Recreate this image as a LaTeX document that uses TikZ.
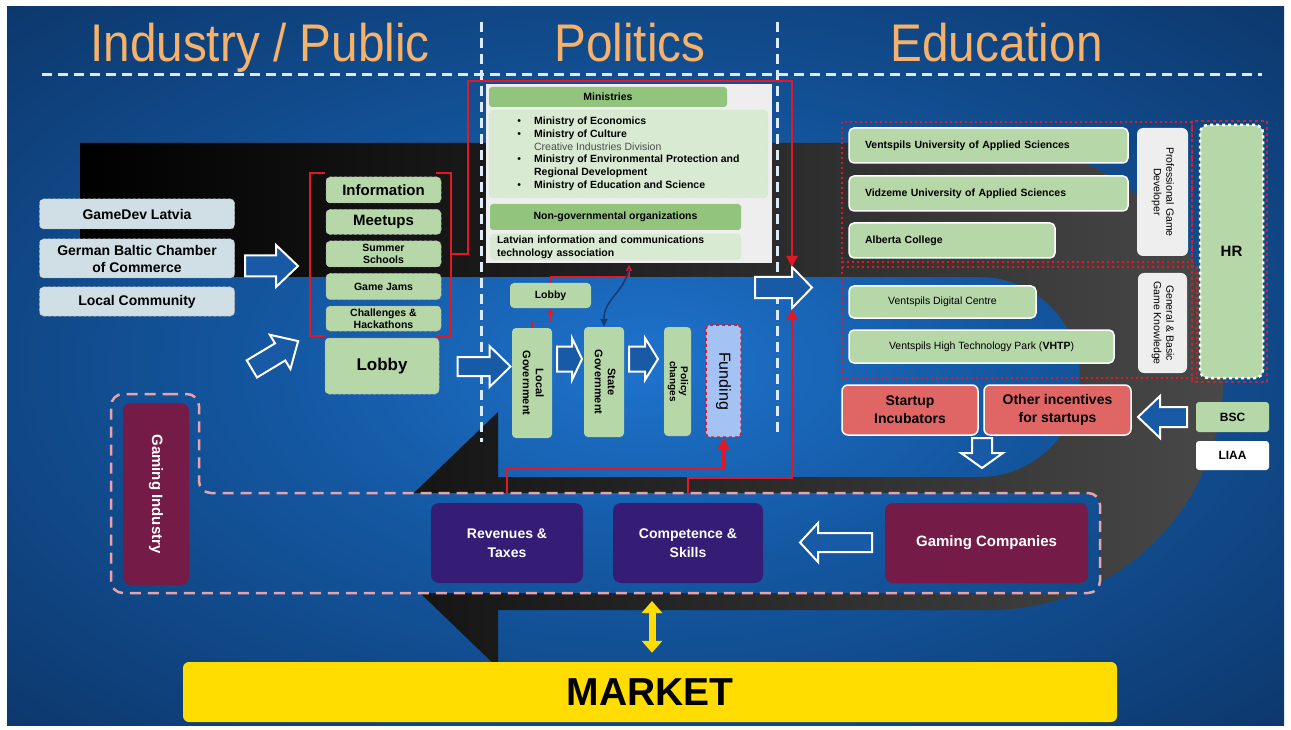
\documentclass[tikz,border=0pt]{standalone}
\usepackage{fontspec}
\setmainfont{Liberation Sans}
\newfontfamily\titlefont[FakeStretch=0.9]{Liberation Sans}
\usetikzlibrary{arrows.meta,positioning,calc}

\definecolor{bgedge}{RGB}{9,40,82}
\definecolor{bgmid}{RGB}{20,88,162}
\definecolor{bgglow}{RGB}{30,115,205}
\definecolor{ushapegrey}{RGB}{72,72,72}
\definecolor{boxgreen}{RGB}{182,215,168}
\definecolor{headgreen}{RGB}{147,196,125}
\definecolor{palegreen}{RGB}{217,234,211}
\definecolor{panelgrey}{RGB}{238,238,238}
\definecolor{orgblue}{RGB}{208,223,230}
\definecolor{flowred}{RGB}{226,24,36}
\definecolor{titleorange}{RGB}{246,178,107}
\definecolor{gamemaroon}{RGB}{116,27,71}
\definecolor{deeppurple}{RGB}{53,28,117}
\definecolor{startred}{RGB}{224,102,102}
\definecolor{fundblue}{RGB}{164,194,244}
\definecolor{marketyellow}{RGB}{255,221,0}
\definecolor{dashpink}{RGB}{232,162,172}
\definecolor{arrowblue}{RGB}{24,90,165}
\definecolor{lightline}{RGB}{222,234,246}
\definecolor{curveblue}{RGB}{18,58,115}

\pgfdeclareradialshading{bgglowshade}{\pgfpoint{0bp}{0bp}}{color(0bp)=(bgglow); color(14bp)=(bgmid); color(46bp)=(bgedge); color(100bp)=(bgedge)}

\newcommand{\setfs}[2]{\fontsize{#1pt}{#2pt}\selectfont}
\newcommand{\bigarrow}[7]{%
  \begin{scope}[shift={(#1,#2)}, rotate=#3]
    \draw[blockarrow] ({-#4/2},{-#6/2}) -- ({#4/2-#7},{-#6/2}) -- ({#4/2-#7},{-#5/2}) -- ({#4/2},0)
      -- ({#4/2-#7},{#5/2}) -- ({#4/2-#7},{#6/2}) -- ({-#4/2},{#6/2}) -- cycle;
  \end{scope}}

\tikzset{
  orgbox/.style={rectangle, rounded corners=4pt, fill=orgblue, draw=black!25, densely dashed, line width=0.5pt, minimum width=195pt, inner sep=0pt, align=center, font=\setfs{14}{17}\bfseries},
  actbox/.style={rectangle, rounded corners=4pt, fill=boxgreen, draw=black!30, densely dashed, line width=0.5pt, minimum width=115pt, inner sep=0pt, align=center},
  minframe/.style={rectangle, fill=panelgrey, minimum width=286pt, minimum height=179pt, inner sep=0pt},
  headbox/.style={rectangle, rounded corners=3pt, fill=headgreen, inner sep=0pt, font=\setfs{10.5}{12.7}\bfseries},
  listbox/.style={rectangle, rounded corners=5pt, fill=palegreen, draw=black!20, densely dotted, inner sep=0pt, font=\setfs{10.5}{12.7}},
  govbox/.style={rectangle, rounded corners=4pt, fill=boxgreen, inner sep=0pt, minimum width=40pt, minimum height=110pt, font=\setfs{11}{13}\bfseries},
  edubox/.style={rectangle, rounded corners=5pt, fill=boxgreen, draw=white, line width=1.5pt, inner sep=0pt, minimum height=35pt, font=\setfs{10.5}{12.7}\bfseries},
  sidebox/.style={rectangle, rounded corners=6pt, fill=panelgrey, inner sep=0pt, font=\setfs{10.5}{12.5}},
  startbox/.style={rectangle, rounded corners=6pt, fill=startred, draw=white, line width=1.5pt, inner sep=0pt, minimum height=50pt, align=center, font=\setfs{14}{18}\bfseries},
  tagbox/.style={rectangle, rounded corners=3pt, inner sep=0pt, minimum width=73pt, font=\setfs{12}{14}\bfseries},
  gamebox/.style={rectangle, rounded corners=8pt, fill=gamemaroon, text=white, inner sep=0pt, align=center, font=\setfs{15}{19}\bfseries},
  valuebox/.style={rectangle, rounded corners=8pt, fill=deeppurple, text=white, inner sep=0pt, minimum width=150pt, minimum height=80pt, align=center, font=\setfs{14}{19}\bfseries},
  headline/.style={text=titleorange, anchor=base, inner sep=0pt, font=\titlefont\setfs{53}{60}},
  sepline/.style={draw=lightline, line width=3pt, dash pattern=on 10pt off 6pt},
  blockarrow/.style={fill=arrowblue, draw=white, line width=2pt},
  flowline/.style={draw=flowred, line width=2.5pt, -{Triangle[width=11pt,length=11pt]}},
  thinflow/.style={draw=flowred, line width=1.2pt, -{Triangle[width=6pt,length=6pt]}},
  redbracket/.style={draw=flowred, line width=2.5pt},
  reddots/.style={draw=flowred, line width=2pt, dash pattern=on 2pt off 3pt},
  banddash/.style={draw=dashpink, line width=2.5pt, dash pattern=on 11pt off 7pt}
}

\begin{document}
\begin{tikzpicture}[x=1pt, y=-1pt, node distance=6pt]
\useasboundingbox (0,0) rectangle (1291,730);
\fill[white] (0,0) rectangle (1291,730);
\shade[shading=bgglowshade] (7,7) rectangle (1284,725);

% the big turning arrow behind everything
\shade[left color=black, right color=ushapegrey] (80,143) -- (990,143)
  .. controls (1119,143) and (1223.5,247.5) .. (1223.5,376.5)
  .. controls (1223.5,505.5) and (1119,610) .. (990,610)
  -- (498,610) -- (498,668) -- (365,540) -- (498,412) -- (498,477) -- (980,477)
  .. controls (1035,477) and (1080,432) .. (1080,377)
  .. controls (1080,322) and (1035,277) .. (980,277) -- (80,277) -- cycle;

% column headers
\node[headline] (industry) at (260,62) {Industry / Public};
\node[headline] (politics) at (630,62) {Politics};
\node[headline] (education) at (996.5,62) {Education};
\draw[sepline] (42,75) -- (1262,75);
\draw[sepline] (481,22) -- (481,442);
\draw[sepline] (777,22) -- (777,437);

% gaming industry band
\begin{scope}
  \clip[rounded corners=12pt] (155,394) -- (199,394) -- (199,493) -- (1100,493) -- (1100,593) -- (111,593) -- (111,394) -- cycle;
  \shade[shading=bgglowshade] (7,7) rectangle (1284,725);
\end{scope}
\draw[banddash, rounded corners=12pt] (155,394) -- (199,394) -- (199,493) -- (1100,493) -- (1100,593) -- (111,593) -- (111,394) -- cycle;
\coordinate (bandtop) at (0,493);
\coordinate (bandfoot) at (652,601);

% industry / public
\node[orgbox, minimum height=30pt] (gamedev) at (137,214) {GameDev Latvia};
\node[orgbox, minimum height=39pt] (gbcc) at (137,258.5) {German Baltic Chamber\\of Commerce};
\node[orgbox, minimum height=29pt] (localcom) at (137,301.5) {Local Community};

\node[actbox, minimum height=26pt, font=\setfs{15}{17}\bfseries] (info) at (383.5,190) {Information};
\node[actbox, minimum height=25pt, font=\setfs{15}{17}\bfseries, below=of info] (meetups) {Meetups};
\node[actbox, minimum height=26pt, font=\setfs{10.5}{12}\bfseries, below=of meetups] (summer) {Summer\\Schools};
\node[actbox, minimum height=26pt, font=\setfs{10.5}{12}\bfseries, below=of summer] (jams) {Game Jams};
\node[actbox, minimum height=25pt, font=\setfs{10.5}{12}\bfseries, below=of jams] (challenges) {Challenges \&\\Hackathons};
\node[actbox, minimum width=114pt, minimum height=56pt, font=\setfs{17}{19}\bfseries] (lobbyA) at (382,366) {Lobby};

\draw[redbracket] (325,173) -- (310,173) -- (310,336) -- (325,336);
\draw[redbracket] (436,173) -- (451,173) -- (451,336) -- (436,336);
\coordinate (brk) at (451,254);

\bigarrow{271.5}{266}{0}{53}{42}{21}{22}
\bigarrow{275}{355}{31}{54}{40}{20}{21}

% politics
\node[minframe] (minbox) at (629,173.5) {};
\node[headbox, minimum width=238pt, minimum height=20pt] (minhead) at (608,97) {Ministries};
\node[listbox, minimum width=279pt, minimum height=88pt] (minlist) at (628.5,154) {%
  \begin{tabular}{@{}l@{\hspace{13pt}}l@{}}
  \textbullet & \textbf{Ministry of Economics}\\
  \textbullet & \textbf{Ministry of Culture}\\
   & \textcolor{black!70}{Creative Industries Division}\\
  \textbullet & \textbf{Ministry of Environmental Protection and}\\
   & \textbf{Regional Development}\\
  \textbullet & \textbf{Ministry of Education and Science}
  \end{tabular}};
\node[headbox, minimum width=251pt, minimum height=26pt] (ngohead) at (615.5,217) {Non-governmental organizations};
\node[listbox, text width=237pt, inner xsep=7pt, minimum height=26pt, align=left, font=\setfs{10.5}{12.7}\bfseries] (lict) at (615.5,247) {Latvian information and communications\\technology association};
\coordinate (minfoot) at (629,265);

\node[actbox, minimum width=81pt, minimum height=25pt, draw=none, font=\setfs{10.5}{12}\bfseries] (lobbyB) at (550.5,295.5) {Lobby};
\node[govbox] (localgov) at (532,383) {\rotatebox{-90}{\begin{tabular}{@{}c@{}}Local\\Government\end{tabular}}};
\node[govbox] (stategov) at (604,382) {\rotatebox{-90}{\begin{tabular}{@{}c@{}}State\\Government\end{tabular}}};
\node[govbox, minimum width=27pt, minimum height=109pt, draw=black!40, densely dotted, font=\setfs{10}{11}\bfseries] (policy) at (677.5,381.5) {\rotatebox{-90}{\begin{tabular}{@{}c@{}}Policy\\changes\end{tabular}}};
\node[govbox, minimum width=35pt, minimum height=112pt, fill=fundblue, draw=flowred, dashed, line width=1.5pt, font=\setfs{16}{18}] (funding) at (723.5,381) {\rotatebox{-90}{Funding}};

\bigarrow{484}{366.5}{0}{53}{41}{19}{21}
\bigarrow{569.5}{359}{0}{25}{42}{25}{10}
\bigarrow{643.5}{359}{0}{29}{42}{25}{13}
\bigarrow{783.5}{287.5}{0}{57}{41}{21}{20}
\coordinate (toedu) at (792,267);
\coordinate (fromedu) at (792,309);

% education
\draw[reddots] (842,122) rectangle (1192,262);
\draw[reddots] (842,267) rectangle (1197,378);
\draw[flowred, line width=2pt, dashed] (1192,121) rectangle (1267,382);
\node[edubox, text width=247pt, inner xsep=16pt, align=left] (vua) at (988.5,145.5) {Ventspils University of Applied Sciences};
\node[edubox, text width=247pt, inner xsep=16pt, align=left] (vid) at (988.5,193.5) {Vidzeme University of Applied Sciences};
\node[edubox, text width=174pt, inner xsep=16pt, align=left] (alberta) at (952,240.5) {Alberta College};
\node[edubox, minimum width=187pt, minimum height=32pt, font=\setfs{10.5}{12.7}] (vdc) at (942.5,302) {Ventspils Digital Centre};
\node[edubox, minimum width=265pt, minimum height=33pt, font=\setfs{10.5}{12.7}] (vhtp) at (981.5,346.5) {Ventspils High Technology Park (\textbf{VHTP})};
\node[sidebox, minimum width=51pt, minimum height=128pt] (progame) at (1162.5,192) {\rotatebox{-90}{\begin{tabular}{@{}c@{}}Professional Game\\Developer\end{tabular}}};
\node[sidebox, minimum width=49pt, minimum height=100pt] (genknow) at (1162.5,323) {\rotatebox{-90}{\begin{tabular}{@{}c@{}}General \& Basic\\Game Knowledge\end{tabular}}};
\node[rectangle, rounded corners=8pt, fill=boxgreen, draw=white, dashed, line width=2.5pt, minimum width=63pt, minimum height=253pt, font=\setfs{15}{17}\bfseries] (hr) at (1231.5,251.5) {HR};

\node[startbox, minimum width=136pt] (startup) at (910,410) {Startup\\Incubators};
\node[startbox, minimum width=147pt] (incent) at (1057.5,410) {Other incentives\\for startups};
\node[tagbox, fill=boxgreen, minimum height=30pt] (bsc) at (1232.5,417) {BSC};
\node[tagbox, fill=white, minimum height=29pt] (liaa) at (1232.5,455.5) {LIAA};
\bigarrow{1162.5}{417}{180}{49}{42}{20}{22}
\bigarrow{982}{453}{-90}{30}{42}{20}{15}

% gaming industry and market
\node[gamebox, minimum width=66pt, minimum height=182pt] (gamingind) at (156,494) {\rotatebox{-90}{Gaming Industry}};
\node[valuebox, minimum width=152pt] (revenues) at (507,543) {Revenues \&\\Taxes};
\node[valuebox] (competence) at (688,543) {Competence \&\\Skills};
\node[gamebox, minimum width=203pt, minimum height=80pt] (gamingco) at (986.5,543) {Gaming Companies};
\bigarrow{836}{542.5}{180}{72}{39}{19}{18}
\node[rectangle, rounded corners=6pt, fill=marketyellow, minimum width=934pt, minimum height=60pt, inner sep=0pt, font=\setfs{39}{42}\bfseries] (market) at (650,692) {MARKET};
\draw[marketyellow, line width=7pt, {Triangle[width=20pt,length=12pt]}-{Triangle[width=20pt,length=12pt]}, shorten >=9pt] (bandfoot) -- (bandfoot |- market.north);

% flows
\draw[flowline] (brk) -| (468,81) -| (toedu);
\draw[flowline] (competence.north |- bandtop) -- ++(0,-15) -| (fromedu);
\draw[flowline] (revenues.north |- bandtop) -- ++(0,-24) -| (funding.south);
\draw[thinflow] (localgov.north) -- ++(0,-6) -| (lobbyB.south);
\draw[thinflow] (lobbyB.north) -- ++(0,-6) -| (minfoot);
\draw[curveblue, line width=1.5pt, -{Triangle[width=7pt,length=8pt]}] ([yshift=-4pt]minfoot) .. controls +(-6,25) and +(0,-28) .. (stategov.north);
\end{tikzpicture}
\end{document}
